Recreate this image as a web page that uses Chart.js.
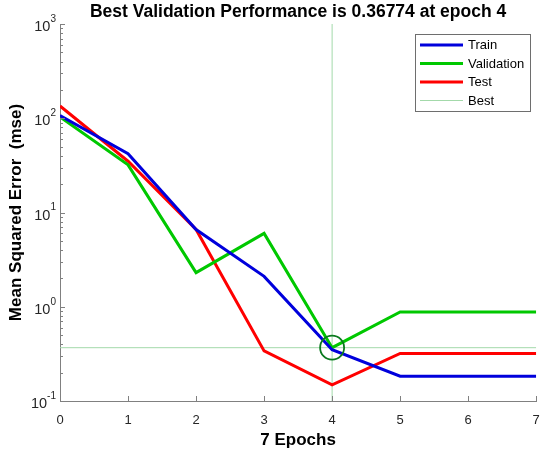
<!DOCTYPE html>
<html>
<head>
<meta charset="utf-8">
<title>Best Validation Performance</title>
<script src="https://cdn.jsdelivr.net/npm/chart.js@4.4.1/dist/chart.umd.min.js"></script>
<style>
  html, body { margin: 0; padding: 0; background: #fff; }
  #wrap { width: 550px; height: 457px; position: relative; }
</style>
</head>
<body>
<div id="wrap"><canvas id="perf"></canvas></div>
<script>
// values (mse per epoch)
const epochs = [0, 1, 2, 3, 4, 5, 6, 7];
const trainPerf = [107, 42, 6.6, 2.1, 0.35, 0.183, 0.183, 0.183];
const validationPerf = [103, 32, 2.3, 6.0, 0.36774, 0.88, 0.88, 0.88];
const testPerf = [135, 35, 6.6, 0.34, 0.148, 0.32, 0.32, 0.32];
const bestEpoch = 4;
const bestPerf = 0.36774;

// axis ticks
const xTicks = [0, 1, 2, 3, 4, 5, 6, 7];
const yDecades = [-1, 0, 1, 2, 3];
const yMinorSteps = [2, 3, 4, 5, 6, 7, 8, 9];

const FONT = "'Liberation Sans', Arial, sans-serif";
const AXIS_GREY = "#808080";
const TEXT_DARK = "#262626";

function toPoints(values) {
  return epochs.map((e, i) => ({ x: e, y: values[i] }));
}

// inward ticks, superscript y labels and the boxed legend
const matlabAxes = {
  id: "matlabAxes",
  afterDatasetsDraw(chart) {
    const ctx = chart.ctx;
    const xs = chart.scales.x;
    const ys = chart.scales.y;
    const area = chart.chartArea;

    ctx.save();
    ctx.strokeStyle = AXIS_GREY;
    ctx.lineWidth = 1;

    // x ticks point up into the plot
    xTicks.forEach((v) => {
      const px = Math.round(xs.getPixelForValue(v)) + 0.5;
      ctx.beginPath();
      ctx.moveTo(px, area.bottom);
      ctx.lineTo(px, area.bottom - 5);
      ctx.stroke();
    });

    // y ticks (major + minor) point right into the plot
    ys.ticks.forEach((t) => {
      const py = Math.round(ys.getPixelForValue(t.value)) + 0.5;
      const len = t.major ? 5 : 3;
      ctx.beginPath();
      ctx.moveTo(area.left, py);
      ctx.lineTo(area.left + len, py);
      ctx.stroke();
    });

    // decade labels 10^n
    ctx.fillStyle = TEXT_DARK;
    ctx.textBaseline = "middle";
    yDecades.forEach((d) => {
      const py = ys.getPixelForValue(Math.pow(10, d));
      const expText = String(d);
      ctx.font = "10px " + FONT;
      const expW = ctx.measureText(expText).width;
      const right = area.left - 4;
      ctx.textAlign = "left";
      ctx.fillText(expText, right - expW, py - 5);
      ctx.font = "14.5px " + FONT;
      ctx.textAlign = "right";
      ctx.fillText("10", right - expW, py + 3);
    });
    ctx.restore();
  },
  afterDraw(chart) {
    const ctx = chart.ctx;
    const items = chart.data.datasets.filter((ds) => ds.inLegend);
    const boxX = 415, boxY = 34, boxW = 115, boxH = 77;
    const rowH = 18.5;

    ctx.save();
    ctx.fillStyle = "#ffffff";
    ctx.fillRect(boxX, boxY, boxW, boxH);
    ctx.strokeStyle = "#6e6e6e";
    ctx.lineWidth = 1;
    ctx.strokeRect(boxX + 0.5, boxY + 0.5, boxW, boxH);

    ctx.font = "13px " + FONT;
    ctx.textBaseline = "middle";
    ctx.textAlign = "left";
    items.forEach((ds, i) => {
      const y = boxY + 11 + i * rowH;
      ctx.strokeStyle = ds.borderColor;
      ctx.lineWidth = ds.borderWidth;
      ctx.beginPath();
      ctx.moveTo(boxX + 5, y);
      ctx.lineTo(boxX + 48, y);
      ctx.stroke();
      ctx.fillStyle = "#000000";
      ctx.fillText(ds.label, boxX + 53, y + 0.5);
    });
    ctx.restore();
  },
};

const ctx = document.getElementById("perf").getContext("2d");
const perfChart = new Chart(ctx, {
  type: "line",
  data: {
    datasets: [
      {
        label: "Train",
        data: toPoints(trainPerf),
        borderColor: "#0000dc",
        borderWidth: 3,
        pointRadius: 0,
        order: 1,
        inLegend: true,
      },
      {
        label: "Validation",
        data: toPoints(validationPerf),
        borderColor: "#00c800",
        borderWidth: 3,
        pointRadius: 0,
        order: 1,
        inLegend: true,
      },
      {
        label: "Test",
        data: toPoints(testPerf),
        borderColor: "#ff0000",
        borderWidth: 3,
        pointRadius: 0,
        order: 1,
        inLegend: true,
      },
      {
        label: "Best",
        data: [
          { x: epochs[0], y: bestPerf },
          { x: epochs[epochs.length - 1], y: bestPerf },
        ],
        borderColor: "#a3d9aa",
        borderWidth: 1,
        pointRadius: 0,
        order: 2,
        inLegend: true,
      },
      {
        label: "Best epoch",
        data: [
          { x: bestEpoch, y: Math.pow(10, yDecades[0]) },
          { x: bestEpoch, y: Math.pow(10, yDecades[yDecades.length - 1]) },
        ],
        borderColor: "#a3d9aa",
        borderWidth: 1,
        pointRadius: 0,
        order: 2,
      },
      {
        label: "Best point",
        data: [{ x: bestEpoch, y: bestPerf }],
        showLine: false,
        pointRadius: 12,
        pointBorderWidth: 1.8,
        pointBorderColor: "#0b7a1e",
        pointBackgroundColor: "rgba(0,0,0,0)",
        order: 0,
      },
    ],
  },
  options: {
    responsive: true,
    maintainAspectRatio: false,
    animation: false,
    events: [],
    layout: { padding: 0 },
    plugins: {
      legend: { display: false },
      tooltip: { enabled: false },
      title: {
        display: true,
        fullSize: false,
        text: "Best Validation Performance is " + bestPerf + " at epoch " + bestEpoch,
        color: "#000000",
        font: { family: FONT, size: 17.5, weight: "bold" },
        padding: { top: 2, bottom: 1 },
      },
    },
    scales: {
      x: {
        type: "linear",
        min: xTicks[0],
        max: xTicks[xTicks.length - 1],
        afterBuildTicks(scale) {
          scale.ticks = xTicks.map((v) => ({ value: v }));
        },
        afterFit(scale) {
          scale.height = 56;
          scale.paddingRight = 6; // keep 7 near the right edge like the original
        },
        grid: { display: false, drawTicks: false },
        border: { display: true, color: AXIS_GREY, width: 1 },
        ticks: {
          color: TEXT_DARK,
          font: { family: FONT, size: 13 },
          padding: 12,
          maxRotation: 0,
          autoSkip: false,
        },
        title: {
          display: true,
          text: (epochs.length - 1) + " Epochs",
          color: "#000000",
          font: { family: FONT, size: 17, weight: "bold" },
          padding: { top: 6, bottom: 6 },
        },
      },
      y: {
        type: "logarithmic",
        min: Math.pow(10, yDecades[0]),
        max: Math.pow(10, yDecades[yDecades.length - 1]),
        afterBuildTicks(scale) {
          const ticks = [];
          yDecades.forEach((d, i) => {
            ticks.push({ value: Math.pow(10, d), major: true });
            if (i < yDecades.length - 1) {
              yMinorSteps.forEach((m) => ticks.push({ value: m * Math.pow(10, d), major: false }));
            }
          });
          scale.ticks = ticks;
        },
        afterFit(scale) {
          scale.width = 60;
        },
        grid: { display: false, drawTicks: false },
        border: { display: true, color: AXIS_GREY, width: 1 },
        ticks: { display: false },
        title: {
          display: true,
          text: "Mean Squared Error  (mse)",
          color: "#000000",
          font: { family: FONT, size: 17, weight: "bold" },
          padding: { top: 6, bottom: 6 },
        },
      },
    },
  },
  plugins: [matlabAxes],
});
</script>
</body>
</html>
